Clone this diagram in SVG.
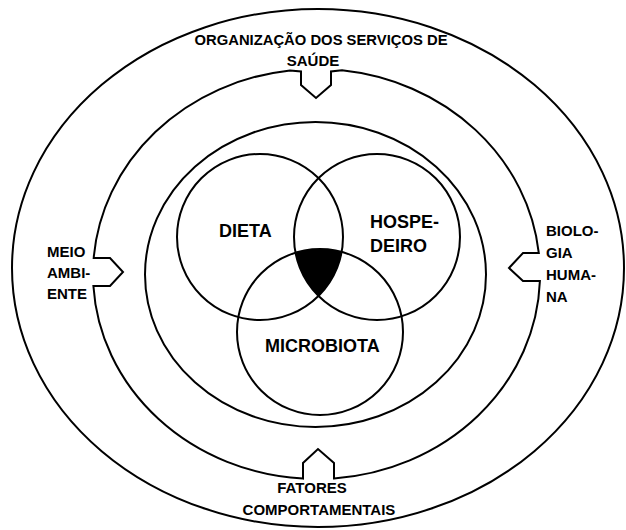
<svg xmlns="http://www.w3.org/2000/svg" width="626" height="530" viewBox="0 0 626 530">
<style>
.ln{fill:none;stroke:#000;stroke-width:2}
.t{font-family:"Liberation Sans",Arial,sans-serif;font-weight:bold;font-size:15px;fill:#000}
.c{font-family:"Liberation Sans",Arial,sans-serif;font-weight:bold;font-size:18px;fill:#000}
</style>
<defs>
<clipPath id="cH"><circle cx="377" cy="237" r="83"/></clipPath>
<clipPath id="cM"><circle cx="320" cy="332" r="83"/></clipPath>
</defs>
<rect width="626" height="530" fill="#fff"/>
<g id="outer">
<ellipse class="ln" cx="318" cy="268" rx="306" ry="259"/>
<text class="t" x="321" y="45" text-anchor="middle" textLength="253" lengthAdjust="spacingAndGlyphs">ORGANIZAÇÃO DOS SERVIÇOS DE</text>
<text class="t" x="313" y="66" text-anchor="middle">SAÚDE</text>
<text class="t" x="47" y="257">MEIO</text>
<text class="t" x="47" y="278">AMBI-</text>
<text class="t" x="47" y="299">ENTE</text>
<text class="t" x="546" y="236">BIOLO-</text>
<text class="t" x="546" y="258">GIA</text>
<text class="t" x="546" y="280">HUMA-</text>
<text class="t" x="546" y="302">NA</text>
<text class="t" x="312" y="493" text-anchor="middle">FATORES</text>
<text class="t" x="319" y="515" text-anchor="middle">COMPORTAMENTAIS</text>
</g>
<g id="connectors">
<path class="ln" d="M342,70.3 A223.5,205 0 0 1 538.8,253 L523,253 L509,268 L523,281 L539.9,281 A223.5,205 0 0 1 334,478.4 L334,463 L318,449 L303,463 L303,478.6 A223.5,205 0 0 1 93.4,286 L110,286 L123,272 L110,258 L93.7,258 A223.5,205 0 0 1 290,70.4 L301,71.5 L301,85 L316,98 L331,85 L331,71.5 Z"/>
</g>
<g id="inner">
<ellipse class="ln" cx="315.5" cy="274.5" rx="170.5" ry="152.5"/>
</g>
<g id="intersection">
<g clip-path="url(#cH)"><circle cx="260" cy="237" r="83" fill="#000" clip-path="url(#cM)"/></g>
</g>
<g id="dieta">
<circle class="ln" cx="260" cy="237" r="83"/>
<text class="c" x="219" y="237">DIETA</text>
</g>
<g id="hospedeiro">
<circle class="ln" cx="377" cy="237" r="83"/>
<text class="c" x="370" y="228">HOSPE-</text>
<text class="c" x="370" y="252">DEIRO</text>
</g>
<g id="microbiota">
<circle class="ln" cx="320" cy="332" r="83"/>
<text class="c" x="265" y="352">MICROBIOTA</text>
</g>
</svg>
